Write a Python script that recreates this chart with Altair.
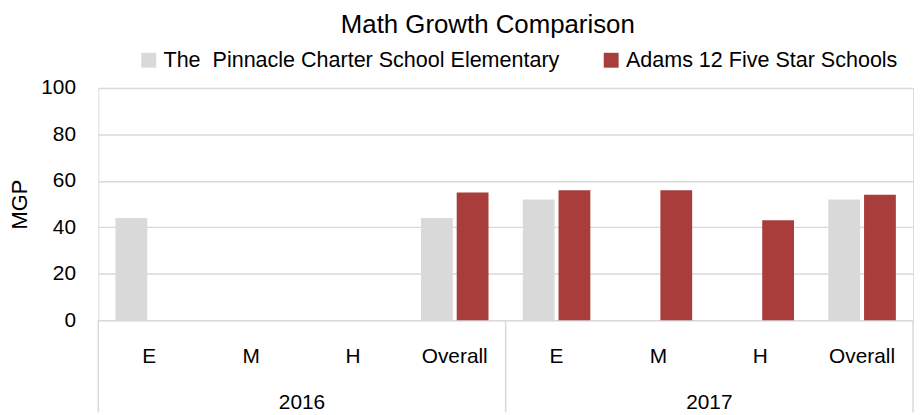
import altair as alt
import pandas as pd

# ---- data ----
years = ["2016", "2016", "2016", "2016", "2017", "2017", "2017", "2017"]
levels = ["E", "M", "H", "Overall", "E", "M", "H", "Overall"]
series_names = ["The\u00a0 Pinnacle Charter School Elementary", "Adams 12 Five Star Schools"]
pinnacle = [44, None, None, 44, 52, None, None, 52]
adams = [None, None, None, 55, 56, 56, 43, 54]
colors = ["#d9d9d9", "#a93d3b"]
y_ticks = [0, 20, 40, 60, 80, 100]
year_labels = ["2016", "2017"]

FONT = "Liberation Sans"
W, H = 821, 234
GRID = "#d9d9d9"

keys = [f"{y}|{l}" for y, l in zip(years, levels)]
rows = []
for k, p, a in zip(keys, pinnacle, adams):
    rows.append({"key": k, "series": series_names[0], "value": p})
    rows.append({"key": k, "series": series_names[1], "value": a})
df = pd.DataFrame(rows)

xscale = alt.Scale(domain=keys, paddingInner=0, paddingOuter=0)

bars = alt.Chart(df).transform_filter("isValid(datum.value)").mark_bar().encode(
    x=alt.X("key:N", scale=xscale,
            axis=alt.Axis(title=None, labelExpr="split(datum.value, '|')[1]",
                          labelAngle=0, ticks=False, domain=False, grid=False,
                          labelFontSize=21, labelPadding=26, labelColor="#000",
                          labelFont=FONT)),
    xOffset=alt.XOffset("series:N",
                        scale=alt.Scale(domain=series_names, paddingInner=0.11, paddingOuter=0.48)),
    y=alt.Y("value:Q", scale=alt.Scale(domain=[0, 100]),
            axis=alt.Axis(values=y_ticks, title="MGP", grid=True, gridColor=GRID,
                          gridWidth=1.5, domain=False, ticks=False,
                          labelFontSize=21, labelPadding=23, labelColor="#000",
                          labelFont=FONT, titleFont=FONT, titleFontSize=22,
                          titleFontWeight="normal", titleColor="#000",
                          titlePadding=9)),
    color=alt.Color("series:N",
                    scale=alt.Scale(domain=series_names, range=colors),
                    legend=alt.Legend(title=None, orient="none", legendX=40, legendY=-39,
                                      direction="horizontal", symbolType="square",
                                      symbolSize=225, symbolStrokeWidth=0,
                                      labelFontSize=21.7, labelFont=FONT, labelColor="#000",
                                      columnPadding=41, labelOffset=4, labelLimit=0)),
)

sep_left = alt.Chart(pd.DataFrame({"key": [keys[0], keys[4]]})).mark_rule(
    color=GRID, strokeWidth=1.5).encode(
    x=alt.X("key:N", scale=xscale, bandPosition=0),
    y=alt.value(H), y2=alt.value(H + 93))

sep_right = alt.Chart(pd.DataFrame({"key": [keys[7]]})).mark_rule(
    color=GRID, strokeWidth=1.5).encode(
    x=alt.X("key:N", scale=xscale, bandPosition=1),
    y=alt.value(H), y2=alt.value(H + 93))

year_text = alt.Chart(pd.DataFrame({"key": [keys[1], keys[5]], "year": year_labels})).mark_text(
    font=FONT, fontSize=21, color="#000", baseline="middle", align="center").encode(
    x=alt.X("key:N", scale=xscale, bandPosition=1),
    y=alt.value(H + 84), text="year:N")

chart = alt.layer(bars, sep_left, sep_right, year_text).properties(
    width=W, height=H,
    padding={"left": 0, "top": 3, "right": 0, "bottom": 0},
    title=alt.Title("Math Growth Comparison", font=FONT, fontSize=26, fontWeight="normal",
                    color="#000", anchor="middle", dx=-18, offset=11),
).configure_view(stroke=GRID, strokeWidth=1.5).configure(font=FONT)

chart.save("out.html", embed_options={"renderer": "svg", "actions": False})
